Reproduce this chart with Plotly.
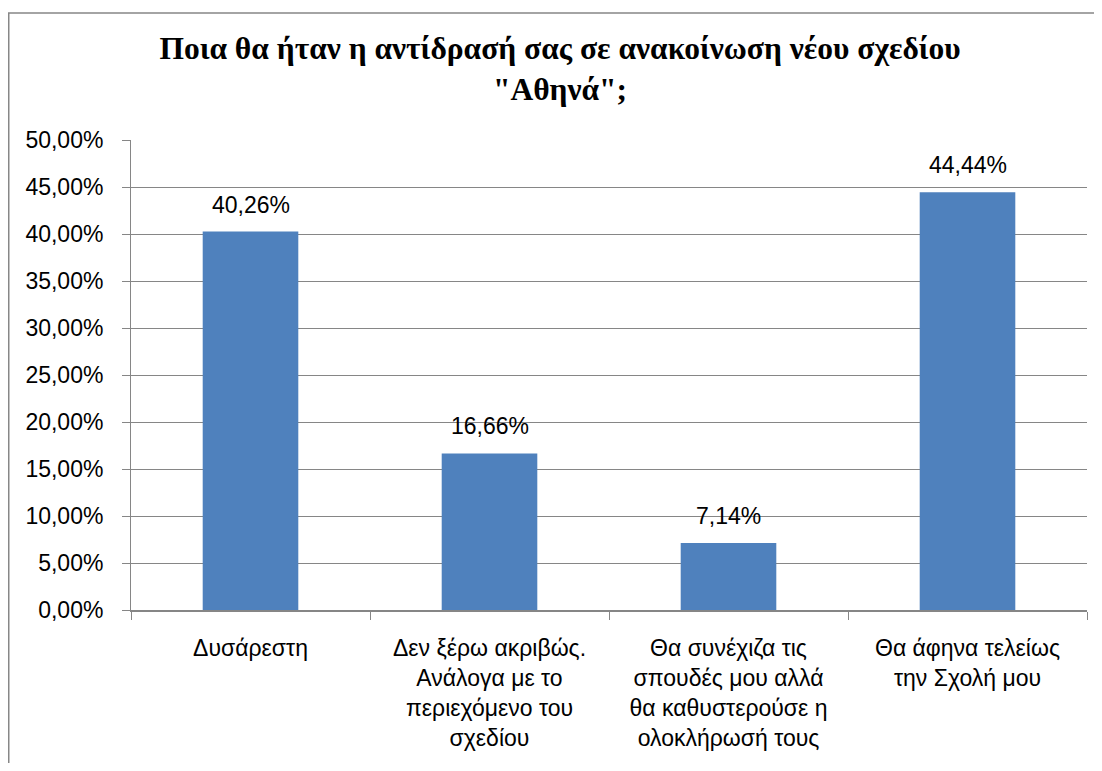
import plotly.graph_objects as go

categories = [
    "Δυσάρεστη",
    "Δεν ξέρω ακριβώς.<br>Ανάλογα με το<br>περιεχόμενο του<br>σχεδίου",
    "Θα συνέχιζα τις<br>σπουδές μου αλλά<br>θα καθυστερούσε η<br>ολοκλήρωσή τους",
    "Θα άφηνα τελείως<br>την Σχολή μου",
]
values = [40.26, 16.66, 7.14, 44.44]
labels = [f"{v:.2f}%".replace(".", ",") for v in values]
title_text = "<b>Ποια θα ήταν η αντίδρασή σας σε ανακοίνωση νέου σχεδίου<br>\"Αθηνά\";</b>"

OFF = 8  # page body margin
W, H = 1102 - 2 * OFF, 771 - 2 * OFF
L, R, T, B = 131 - OFF, W - (1087 - OFF), 140 - OFF, H - (610 - OFF)

SANS = "Liberation Sans"
SERIF = "Liberation Serif"

fig = go.Figure()
fig.add_trace(go.Bar(
    x=categories, y=values,
    marker=dict(color="#4F81BD", line=dict(width=0)),
    hoverinfo="skip",
))

for c, v, t in zip(categories, values, labels):
    fig.add_annotation(x=c, y=v, text=t, showarrow=False, yanchor="bottom",
                       yshift=12, font=dict(family=SANS, size=23, color="#000"))

# outer chart border (right and bottom edges run off the picture)
pw, ph = W - L - R, H - T - B
fig.add_shape(type="rect", xref="paper", yref="paper",
              x0=(0.75 - L) / pw, x1=(W + 40 - L) / pw,
              y0=-(B + 40) / ph, y1=(H - B - 5) / ph,
              line=dict(color="#878787", width=1.5), fillcolor="rgba(0,0,0,0)", layer="below")

fig.update_layout(
    width=W, height=H,
    margin=dict(l=L, r=R, t=T, b=B, autoexpand=False),
    paper_bgcolor="white", plot_bgcolor="white",
    separators=",.",
    bargap=0.6,
    showlegend=False,
    title=dict(text=title_text, x=(560 - OFF) / W, xanchor="center", xref="container",
               y=1 - 51 / H, yanchor="top",
               font=dict(family=SERIF, size=31.5, color="#000")),
    font=dict(family=SANS, size=23, color="#000"),
)
fig.update_yaxes(range=[0, 50], dtick=5, tickformat=".2f", ticksuffix="%",
                 showgrid=True, gridcolor="#868686", gridwidth=1,
                 showline=True, linecolor="#868686", linewidth=1,
                 ticks="outside", ticklen=8, tickcolor="#868686", tickwidth=1,
                 ticklabelstandoff=14, zeroline=False,
                 tickfont=dict(family=SANS, size=23, color="#000"))
fig.update_xaxes(showline=True, linecolor="#868686", linewidth=1.5,
                 ticks="outside", ticklen=8, tickcolor="#868686", tickwidth=1,
                 tickson="boundaries", showgrid=False, ticklabelstandoff=17,
                 tickfont=dict(family=SANS, size=23, color="#000"))

fig.write_html("out.html")
